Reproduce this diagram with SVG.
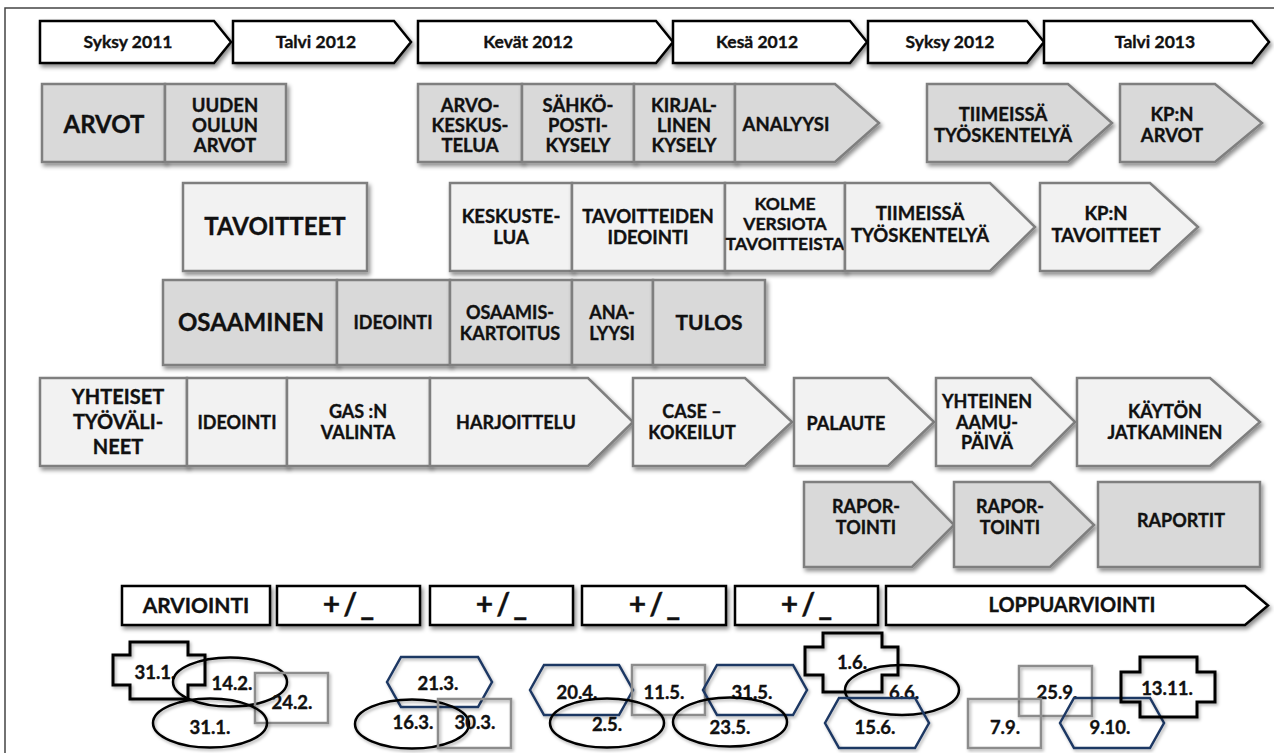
<svg xmlns="http://www.w3.org/2000/svg" width="1274" height="753" viewBox="0 0 1274 753">
  <defs>
    <filter id="shadow" x="-10%" y="-10%" width="130%" height="140%">
      <feDropShadow dx="2" dy="3" stdDeviation="2" flood-color="#000" flood-opacity="0.45"/>
    </filter>
    <filter id="softshadow" x="-10%" y="-10%" width="130%" height="140%">
      <feDropShadow dx="1.5" dy="2" stdDeviation="1.5" flood-color="#000" flood-opacity="0.3"/>
    </filter>
    <style>
      text { font-family: Lato, "Open Sans", "Liberation Sans", sans-serif; font-weight: bold; fill: #111; stroke: #111; stroke-width: 0.35px; text-anchor: middle; }
      .season { fill: #fff; stroke: #000; stroke-width: 2.5; filter: url(#shadow); }
      .dark { fill: #d9d9d9; stroke: #7f7f7f; stroke-width: 2.5; filter: url(#shadow); }
      .light { fill: #f2f2f2; stroke: #7f7f7f; stroke-width: 2.5; filter: url(#shadow); }
      .evalbox { fill: #fff; stroke: #000; stroke-width: 2.5; filter: url(#shadow); }
      .ell { fill: none; stroke: #000; stroke-width: 2.5; filter: url(#softshadow); }
      .hex { fill: none; stroke: #1f3864; stroke-width: 2.5; filter: url(#softshadow); }
      .sq { fill: none; stroke: #8c8c8c; stroke-width: 2.5; filter: url(#softshadow); }
      .cross { fill: none; stroke: #000; stroke-width: 3; filter: url(#softshadow); }
      .ts { font-size: 17.5px; }
      .tm { font-size: 18.5px; }
      .tr { font-size: 18px; }
      .ty { font-size: 20px; }
      .tl { font-size: 24px; }
      .tu { font-size: 21px; }
      .pm { font-size: 30px; letter-spacing: 3px; }
      .date { font-size: 18.5px; }
    </style>
  </defs>

  <rect width="1274" height="753" fill="#fff"/>
  <!-- page frame -->
  <path d="M5,753 V8 H1274" fill="none" stroke="#444" stroke-width="1.5"/>

  <!-- season timeline -->
  <g id="season-syksy-2011">
    <path class="season" d="M40,21 H214 L231,42 L214,63 H40 Z"/>
    <text class="ts" x="128" y="48">Syksy 2011</text>
  </g>
  <g id="season-talvi-2012">
    <path class="season" d="M233,21 H394 L411,42 L394,63 H233 Z"/>
    <text class="ts" x="316" y="48">Talvi 2012</text>
  </g>
  <g id="season-kevat-2012">
    <path class="season" d="M418,21 H656 L673,42 L656,63 H418 Z"/>
    <text class="ts" x="528" y="48">Kevät 2012</text>
  </g>
  <g id="season-kesa-2012">
    <path class="season" d="M673,21 H850 L867,42 L850,63 H673 Z"/>
    <text class="ts" x="757" y="48">Kesä 2012</text>
  </g>
  <g id="season-syksy-2012">
    <path class="season" d="M868,21 H1027 L1044,42 L1027,63 H868 Z"/>
    <text class="ts" x="950" y="48">Syksy 2012</text>
  </g>
  <g id="season-talvi-2013">
    <path class="season" d="M1044,21 H1252 L1269,42 L1252,63 H1044 Z"/>
    <text class="ts" x="1155" y="48">Talvi 2013</text>
  </g>

  <!-- row: ARVOT -->
  <g id="arvot">
    <rect class="dark" x="42" y="84" width="123" height="78"/>
    <text class="tl" x="104" y="133">ARVOT</text>
  </g>
  <g id="arvot-uuden-oulun">
    <rect class="dark" x="165" y="84" width="121" height="78"/>
    <text class="tm" x="225" y="112">UUDEN</text>
    <text class="tm" x="225" y="132">OULUN</text>
    <text class="tm" x="225" y="152">ARVOT</text>
  </g>
  <g id="arvot-keskustelua">
    <rect class="dark" x="418" y="84" width="104" height="78"/>
    <text class="tm" x="470" y="112">ARVO-</text>
    <text class="tm" x="470" y="132">KESKUS-</text>
    <text class="tm" x="470" y="152">TELUA</text>
  </g>
  <g id="arvot-sahkoposti">
    <rect class="dark" x="522" y="84" width="112" height="78"/>
    <text class="tm" x="578" y="112">SÄHKÖ-</text>
    <text class="tm" x="578" y="132">POSTI-</text>
    <text class="tm" x="578" y="152">KYSELY</text>
  </g>
  <g id="arvot-kirjallinen">
    <rect class="dark" x="634" y="84" width="101" height="78"/>
    <text class="tm" x="684" y="112">KIRJAL-</text>
    <text class="tm" x="684" y="132">LINEN</text>
    <text class="tm" x="684" y="152">KYSELY</text>
  </g>
  <g id="arvot-analyysi">
    <path class="dark" d="M735,84 H835 L879,123 L835,162 H735 Z"/>
    <text class="tm" x="786" y="131">ANALYYSI</text>
  </g>
  <g id="arvot-tiimeissa">
    <path class="dark" d="M927,84 H1068 L1112,123 L1068,162 H927 Z"/>
    <text class="tm" x="1003" y="121">TIIMEISSÄ</text>
    <text class="tm" x="1003" y="142">TYÖSKENTELYÄ</text>
  </g>
  <g id="arvot-kpn">
    <path class="dark" d="M1120,84 H1215 L1262,123 L1215,162 H1120 Z"/>
    <text class="tm" x="1172" y="121">KP:N</text>
    <text class="tm" x="1172" y="142">ARVOT</text>
  </g>

  <!-- row: TAVOITTEET -->
  <g id="tavoitteet">
    <rect class="light" x="183" y="183" width="184" height="88"/>
    <text class="tl" x="275" y="235">TAVOITTEET</text>
  </g>
  <g id="tavoitteet-keskustelua">
    <rect class="light" x="450" y="183" width="122" height="88"/>
    <text class="tm" x="511" y="223">KESKUSTE-</text>
    <text class="tm" x="511" y="244">LUA</text>
  </g>
  <g id="tavoitteet-ideointi">
    <rect class="light" x="572" y="183" width="153" height="88"/>
    <text class="tm" x="648" y="223">TAVOITTEIDEN</text>
    <text class="tm" x="648" y="244">IDEOINTI</text>
  </g>
  <g id="tavoitteet-versiot">
    <rect class="light" x="725" y="183" width="120" height="88"/>
    <text class="ts" x="785" y="210">KOLME</text>
    <text class="ts" x="785" y="230">VERSIOTA</text>
    <text class="ts" x="785" y="250">TAVOITTEISTA</text>
  </g>
  <g id="tavoitteet-tiimeissa">
    <path class="light" d="M845,183 H990 L1035,227 L990,271 H845 Z"/>
    <text class="tm" x="920" y="220">TIIMEISSÄ</text>
    <text class="tm" x="920" y="242">TYÖSKENTELYÄ</text>
  </g>
  <g id="tavoitteet-kpn">
    <path class="light" d="M1040,183 H1150 L1198,227 L1150,271 H1040 Z"/>
    <text class="tm" x="1106" y="220">KP:N</text>
    <text class="tm" x="1106" y="242">TAVOITTEET</text>
  </g>

  <!-- row: OSAAMINEN -->
  <g id="osaaminen">
    <rect class="dark" x="163" y="280" width="174" height="85"/>
    <text class="tl" x="251" y="331">OSAAMINEN</text>
  </g>
  <g id="osaaminen-ideointi">
    <rect class="dark" x="337" y="280" width="113" height="85"/>
    <text class="tr" x="393" y="329">IDEOINTI</text>
  </g>
  <g id="osaaminen-kartoitus">
    <rect class="dark" x="450" y="280" width="122" height="85"/>
    <text class="tr" x="510" y="319">OSAAMIS-</text>
    <text class="tr" x="510" y="340">KARTOITUS</text>
  </g>
  <g id="osaaminen-analyysi">
    <rect class="dark" x="572" y="280" width="81" height="85"/>
    <text class="tr" x="612" y="319">ANA-</text>
    <text class="tr" x="612" y="340">LYYSI</text>
  </g>
  <g id="osaaminen-tulos">
    <rect class="dark" x="653" y="280" width="112" height="85"/>
    <text class="tu" x="709" y="330">TULOS</text>
  </g>

  <!-- row: YHTEISET TYÖVÄLINEET -->
  <g id="tyovalineet">
    <rect class="light" x="40" y="378" width="147" height="88"/>
    <text class="ty" x="118" y="404">YHTEISET</text>
    <text class="ty" x="118" y="429">TYÖVÄLI-</text>
    <text class="ty" x="118" y="454">NEET</text>
  </g>
  <g id="tyovalineet-ideointi">
    <rect class="light" x="187" y="378" width="100" height="88"/>
    <text class="tr" x="237" y="429">IDEOINTI</text>
  </g>
  <g id="tyovalineet-gas">
    <rect class="light" x="287" y="378" width="143" height="88"/>
    <text class="tr" x="358" y="418">GAS :N</text>
    <text class="tr" x="358" y="439">VALINTA</text>
  </g>
  <g id="tyovalineet-harjoittelu">
    <path class="light" d="M430,378 H588 L633,422 L588,466 H430 Z"/>
    <text class="tr" x="516" y="429">HARJOITTELU</text>
  </g>
  <g id="tyovalineet-case">
    <path class="light" d="M633,378 H745 L792,422 L745,466 H633 Z"/>
    <text class="tr" x="692" y="418">CASE –</text>
    <text class="tr" x="692" y="439">KOKEILUT</text>
  </g>
  <g id="tyovalineet-palaute">
    <path class="light" d="M794,378 H888 L934,422 L888,466 H794 Z"/>
    <text class="tr" x="846" y="430">PALAUTE</text>
  </g>
  <g id="tyovalineet-aamupaiva">
    <path class="light" d="M936,378 H1031 L1075,422 L1031,466 H936 Z"/>
    <text class="tr" x="987" y="408">YHTEINEN</text>
    <text class="tr" x="987" y="429">AAMU-</text>
    <text class="tr" x="987" y="449">PÄIVÄ</text>
  </g>
  <g id="tyovalineet-jatkaminen">
    <path class="light" d="M1077,378 H1210 L1260,422 L1210,466 H1077 Z"/>
    <text class="tr" x="1165" y="418">KÄYTÖN</text>
    <text class="tr" x="1165" y="439">JATKAMINEN</text>
  </g>

  <!-- row: raportointi -->
  <g id="raportointi-1">
    <path class="dark" d="M804,482 H912 L954,525 L912,567 H804 Z"/>
    <text class="tr" x="866" y="513">RAPOR-</text>
    <text class="tr" x="866" y="534">TOINTI</text>
  </g>
  <g id="raportointi-2">
    <path class="dark" d="M954,482 H1050 L1094,525 L1050,567 H954 Z"/>
    <text class="tr" x="1010" y="513">RAPOR-</text>
    <text class="tr" x="1010" y="534">TOINTI</text>
  </g>
  <g id="raportit">
    <rect class="dark" x="1098" y="482" width="162" height="85"/>
    <text class="tr" x="1181" y="527">RAPORTIT</text>
  </g>

  <!-- evaluation timeline -->
  <g id="arviointi">
    <rect class="evalbox" x="122" y="586" width="148" height="39"/>
    <text class="tu" x="196" y="613">ARVIOINTI</text>
  </g>
  <g id="arviointi-2">
    <rect class="evalbox" x="277" y="586" width="143" height="39"/>
    <text class="pm" x="350" y="615">+/_</text>
  </g>
  <g id="arviointi-3">
    <rect class="evalbox" x="430" y="586" width="143" height="39"/>
    <text class="pm" x="503" y="615">+/_</text>
  </g>
  <g id="arviointi-4">
    <rect class="evalbox" x="582" y="586" width="144" height="39"/>
    <text class="pm" x="656" y="615">+/_</text>
  </g>
  <g id="arviointi-5">
    <rect class="evalbox" x="735" y="586" width="143" height="39"/>
    <text class="pm" x="808" y="615">+/_</text>
  </g>
  <g id="loppuarviointi">
    <path class="evalbox" d="M886,586 H1245 L1268,605.5 L1245,625 H886 Z"/>
    <text class="ty" x="1072" y="612">LOPPUARVIOINTI</text>
  </g>

  <!-- evaluation dates -->
  <g id="d-31-1-cross">
    <path class="cross" d="M130,642 H188 V655 H205 V685 H188 V699 H130 V685 H113 V655 H130 Z"/>
    <text class="date" x="155" y="679">31.1.</text>
  </g>
  <g id="d-14-2">
    <ellipse class="ell" cx="230" cy="682" rx="57" ry="24.5"/>
    <text class="date" x="232" y="690">14.2.</text>
  </g>
  <g id="d-24-2">
    <rect class="sq" x="255" y="673" width="73" height="50"/>
    <text class="date" x="292" y="709">24.2.</text>
  </g>
  <g id="d-31-1">
    <ellipse class="ell" cx="210" cy="723" rx="57" ry="24.5"/>
    <text class="date" x="210" y="734">31.1.</text>
  </g>
  <g id="d-21-3">
    <path class="hex" d="M387,682 L401,657 H478 L492,682 L478,707 H401 Z"/>
    <text class="date" x="438" y="690">21.3.</text>
  </g>
  <g id="d-16-3">
    <ellipse class="ell" cx="412" cy="724" rx="57" ry="24.5"/>
    <text class="date" x="413" y="729">16.3.</text>
  </g>
  <g id="d-30-3">
    <rect class="sq" x="438" y="699" width="73" height="49"/>
    <text class="date" x="475" y="729">30.3.</text>
  </g>
  <g id="d-20-4">
    <path class="hex" d="M530,690 L544,665 H619 L633,690 L619,715 H544 Z"/>
    <text class="date" x="577" y="699">20.4.</text>
  </g>
  <g id="d-11-5">
    <rect class="sq" x="632" y="665" width="73" height="50"/>
    <text class="date" x="664" y="699">11.5.</text>
  </g>
  <g id="d-2-5">
    <ellipse class="ell" cx="607" cy="723" rx="57" ry="24.5"/>
    <text class="date" x="607" y="731">2.5.</text>
  </g>
  <g id="d-31-5">
    <path class="hex" d="M703,690 L717,665 H793 L807,690 L793,715 H717 Z"/>
    <text class="date" x="752" y="699">31.5.</text>
  </g>
  <g id="d-23-5">
    <ellipse class="ell" cx="730" cy="722" rx="57" ry="24.5"/>
    <text class="date" x="730" y="734">23.5.</text>
  </g>
  <g id="d-1-6">
    <path class="cross" d="M823,633 H882 V647 H898 V675 H882 V692 H823 V675 H805 V647 H823 Z"/>
    <text class="date" x="852" y="669">1.6.</text>
  </g>
  <g id="d-6-6">
    <ellipse class="ell" cx="902" cy="690" rx="57" ry="25"/>
    <text class="date" x="904" y="699">6.6.</text>
  </g>
  <g id="d-15-6">
    <path class="hex" d="M825,723 L839,698 H915 L929,723 L915,748 H839 Z"/>
    <text class="date" x="875" y="734">15.6.</text>
  </g>
  <g id="d-25-9">
    <rect class="sq" x="1019" y="666" width="73" height="50"/>
    <text class="date" x="1057" y="699">25.9.</text>
  </g>
  <g id="d-7-9">
    <rect class="sq" x="968" y="699" width="73" height="49"/>
    <text class="date" x="1005" y="734">7.9.</text>
  </g>
  <g id="d-9-10">
    <path class="hex" d="M1060,723 L1074,698 H1150 L1164,723 L1150,748 H1074 Z"/>
    <text class="date" x="1110" y="734">9.10.</text>
  </g>
  <g id="d-13-11">
    <path class="cross" d="M1140,657 H1197 V672 H1215 V702 H1197 V717 H1140 V702 H1121 V672 H1140 Z"/>
    <text class="date" x="1167" y="695">13.11.</text>
  </g>
</svg>
